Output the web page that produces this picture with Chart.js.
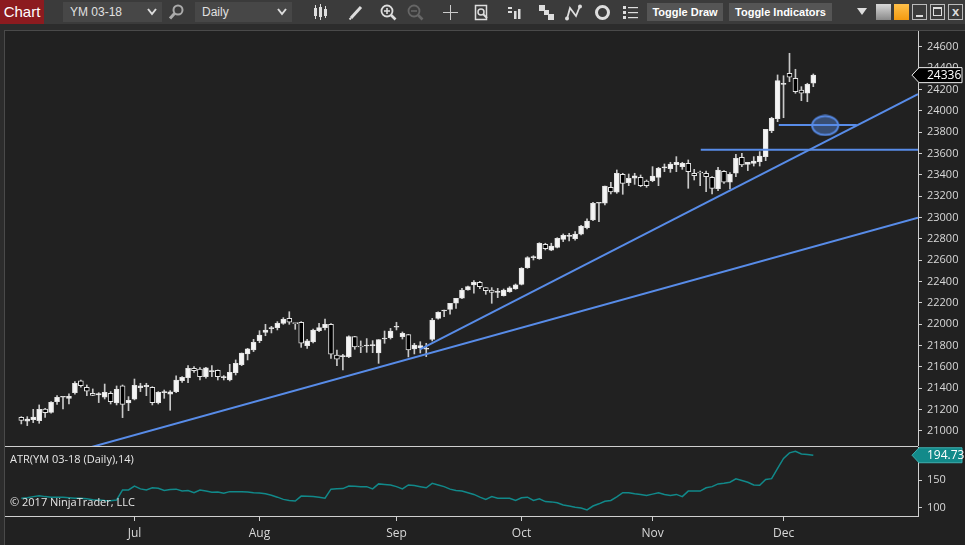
<!DOCTYPE html>
<html>
<head>
<meta charset="utf-8">
<script src="https://cdn.jsdelivr.net/npm/chart.js@4.4.1/dist/chart.umd.min.js"></script>
<style>
html, body { margin:0; padding:0; width:965px; height:545px; overflow:hidden; background:#2c2c2c; font-family:'Open Sans', sans-serif; }
#tb { position:absolute; left:0; top:0; width:965px; height:24px; background:#3b3b3b; }
#tab { position:absolute; left:0; top:0; width:44px; height:24px; background:#8c1b1f; color:#fff; font:15px 'Liberation Sans', sans-serif; line-height:24px; text-align:center; }
.box { position:absolute; top:2px; height:20px; background:#474747; color:#e0e0e0; font:12px 'Liberation Sans', sans-serif; line-height:20px; padding-left:7px; box-sizing:border-box; }
.box svg { position:absolute; right:5px; top:6px; }
.ico { position:absolute; top:4px; }
.btn { position:absolute; top:3px; height:18px; background:#555; color:#fff; font:bold 11px 'Liberation Sans', sans-serif; line-height:18px; text-align:center; }
.win { position:absolute; top:4px; width:15px; height:16px; box-sizing:border-box; }
#frame { position:absolute; left:4px; top:30px; width:961px; height:515px; background:#212121; border-left:1px solid #4a4a4a; border-top:1px solid #4a4a4a; box-sizing:border-box; }
canvas { position:absolute; }
#c1 { left:5px; top:31px; }
#c2 { left:5px; top:447px; }
#sep { position:absolute; left:5px; top:446px; width:913px; height:1px; background:#cfcfcf; }
.lbl { position:absolute; left:10px; color:#e6e6e6; font:11px 'Open Sans', sans-serif; }
</style>
</head>
<body>
<div id="tb">
  <div id="tab">Chart</div>
  <div class="box" style="left:63px;width:99px">YM 03-18<svg width="10" height="8"><polyline points="1,1 5,6 9,1" fill="none" stroke="#ddd" stroke-width="2"/></svg></div>
  <svg class="ico" style="left:168px" width="17" height="16"><circle cx="10" cy="6" r="4.5" fill="none" stroke="#aaa" stroke-width="2"/><line x1="6.5" y1="9.5" x2="2" y2="14.5" stroke="#aaa" stroke-width="3"/></svg>
  <div class="box" style="left:195px;width:97px">Daily<svg width="10" height="8"><polyline points="1,1 5,6 9,1" fill="none" stroke="#ddd" stroke-width="2"/></svg></div>
  <svg class="ico" style="left:312px" width="16" height="16"><g stroke="#ddd" stroke-width="1"><line x1="3.5" y1="1" x2="3.5" y2="15"/><line x1="8.5" y1="0" x2="8.5" y2="16"/><line x1="13.5" y1="2" x2="13.5" y2="14"/></g><g fill="#ddd"><rect x="2" y="4" width="3" height="8"/><rect x="7" y="3" width="3" height="10"/><rect x="12" y="5" width="3" height="7"/></g></svg>
  <svg class="ico" style="left:348px" width="16" height="16"><line x1="3" y1="14" x2="13" y2="3" stroke="#ddd" stroke-width="3"/><line x1="1.5" y1="15.5" x2="3" y2="14" stroke="#ddd" stroke-width="2"/></svg>
  <svg class="ico" style="left:380px" width="17" height="17"><circle cx="7" cy="7" r="5.5" fill="none" stroke="#ddd" stroke-width="1.8"/><line x1="4" y1="7" x2="10" y2="7" stroke="#ddd" stroke-width="1.6"/><line x1="7" y1="4" x2="7" y2="10" stroke="#ddd" stroke-width="1.6"/><line x1="11" y1="11" x2="15.5" y2="15.5" stroke="#ddd" stroke-width="2.6"/></svg>
  <svg class="ico" style="left:407px" width="17" height="17"><circle cx="7" cy="7" r="5.5" fill="none" stroke="#666" stroke-width="1.8"/><line x1="4" y1="7" x2="10" y2="7" stroke="#666" stroke-width="1.6"/><line x1="11" y1="11" x2="15.5" y2="15.5" stroke="#666" stroke-width="2.6"/></svg>
  <svg class="ico" style="left:442px" width="17" height="17"><line x1="8.5" y1="1" x2="8.5" y2="16" stroke="#ccc" stroke-width="1"/><line x1="1" y1="8.5" x2="16" y2="8.5" stroke="#ccc" stroke-width="1"/></svg>
  <svg class="ico" style="left:473px" width="17" height="17"><rect x="2.5" y="1.5" width="11" height="14" fill="none" stroke="#ddd" stroke-width="1.5"/><circle cx="8" cy="8" r="3" fill="none" stroke="#ddd" stroke-width="1.5"/><line x1="10" y1="10" x2="14" y2="14" stroke="#ddd" stroke-width="2"/></svg>
  <svg class="ico" style="left:507px" width="17" height="17"><g fill="#ddd"><rect x="1" y="3" width="4" height="2"/><rect x="1" y="7" width="4" height="2"/><rect x="7" y="7" width="2.5" height="8"/><rect x="11" y="5" width="2.5" height="10"/></g></svg>
  <svg class="ico" style="left:538px" width="17" height="17"><g fill="#ddd"><rect x="1" y="1" width="6" height="6"/><rect x="6" y="6" width="5" height="5"/><rect x="10" y="10" width="6" height="6"/></g></svg>
  <svg class="ico" style="left:565px" width="17" height="17"><polyline points="2,15 5,4 11,12 15,2" fill="none" stroke="#ddd" stroke-width="1.8"/><circle cx="15" cy="2.5" r="2" fill="#ddd"/><circle cx="2" cy="14.5" r="2" fill="#ddd"/></svg>
  <svg class="ico" style="left:594px" width="17" height="17"><circle cx="8.5" cy="8.5" r="6" fill="none" stroke="#ddd" stroke-width="3"/></svg>
  <svg class="ico" style="left:622px" width="17" height="17"><g fill="#ddd"><rect x="1" y="2" width="3" height="3"/><rect x="1" y="7" width="3" height="3"/><rect x="1" y="12" width="3" height="3"/><rect x="6" y="3" width="10" height="1.2"/><rect x="6" y="8" width="10" height="1.2"/><rect x="6" y="13" width="10" height="1.2"/></g></svg>
  <div class="btn" style="left:647px;width:76px">Toggle Draw</div>
  <div class="btn" style="left:729px;width:103px">Toggle Indicators</div>
  <svg class="ico" style="left:857px;top:8px" width="10" height="8"><polygon points="0,0 10,0 5,7" fill="#ddd"/></svg>
  <div class="win" style="left:876px;background:linear-gradient(#d8d8d8,#8a8a8a)"></div>
  <div class="win" style="left:894px;background:linear-gradient(#ffc04a,#f39a10)"></div>
  <div class="win" style="left:912px;border:1px solid #bbb"><div style="position:absolute;left:3px;top:10px;width:7px;height:2px;background:#ddd"></div></div>
  <div class="win" style="left:930px;border:1px solid #bbb"><div style="position:absolute;left:2px;top:2px;width:9px;height:9px;border:1px solid #ddd;border-top-width:2px;box-sizing:border-box"></div></div>
  <div class="win" style="left:948px;border:1px solid #bbb;color:#ddd;font:bold 13px 'Liberation Sans';line-height:14px;text-align:center">x</div>
</div>
<div id="frame"></div>
<canvas id="c1" width="960" height="415"></canvas>
<div id="sep"></div>
<canvas id="c2" width="960" height="98"></canvas>
<div class="lbl" style="top:451px">ATR(YM 03-18 (Daily),14)</div>
<div class="lbl" style="top:494px">© 2017 NinjaTrader, LLC</div>

<script>
// YM 03-18 daily bars, Jun 6 - Dec 8 2017
const opens = [
  21128,21091,21106,21096,21206,21175,21275,21316,21306,21359,
  21469,21410,21353,21337,21316,21353,21262,21422,21262,21297,
  21406,21415,21410,21266,21359,21344,21369,21472,21500,21587,
  21581,21509,21556,21569,21500,21478,21547,21622,21722,21759,
  21847,21925,21960,21969,22009,22056,22009,22019,21800,21834,
  21940,21969,22000,21712,21697,21694,21884,21790,21797,21800,
  21731,21862,21875,21972,21884,21903,21769,21778,21766,21859,
  22056,22125,22140,22197,22244,22322,22369,22394,22344,22322,
  22300,22268,22306,22331,22375,22531,22625,22615,22750,22694,
  22722,22797,22825,22803,22844,22906,22978,23135,23135,23285,
  23238,23406,23328,23369,23378,23344,23346,23378,23466,23459,
  23497,23478,23509,23416,23422,23416,23378,23272,23435,23332,
  23416,23566,23500,23509,23525,23572,23815,23928,24250,24353,
  24307,24197,24166,24260
];
const highs = [
  21134,21134,21203,21244,21213,21275,21331,21320,21347,21462,
  21478,21431,21394,21359,21440,21369,21422,21431,21322,21487,
  21447,21447,21415,21369,21384,21378,21516,21509,21612,21603,
  21594,21597,21612,21572,21519,21625,21666,21731,21775,21859,
  21940,22000,21981,22025,22062,22118,22012,22025,21859,21956,
  22009,22050,22006,21759,21719,21891,21887,21844,21866,21847,
  21856,21937,21962,22019,21928,21906,21822,21837,21822,22056,
  22118,22134,22197,22244,22337,22359,22409,22403,22344,22344,
  22337,22331,22353,22378,22531,22634,22643,22765,22760,22760,
  22812,22847,22853,22869,22928,22988,23144,23140,23297,23331,
  23447,23416,23409,23416,23400,23353,23478,23472,23503,23519,
  23572,23519,23541,23453,23437,23437,23384,23472,23441,23422,
  23594,23604,23519,23572,23619,23828,23941,24338,24331,24541,
  24391,24228,24260,24347
];
const lows = [
  21066,21050,21078,21072,21128,21166,21250,21206,21253,21344,
  21410,21331,21331,21266,21300,21253,21244,21125,21190,21291,
  21369,21331,21244,21253,21306,21194,21359,21456,21453,21550,
  21478,21494,21509,21478,21478,21469,21525,21612,21666,21744,
  21828,21893,21919,21947,22000,22000,21953,21784,21775,21825,
  21931,21947,21681,21612,21572,21687,21766,21734,21737,21734,
  21634,21822,21862,21947,21862,21694,21722,21731,21697,21844,
  22047,22072,22094,22150,22241,22319,22291,22334,22281,22197,
  22250,22265,22300,22328,22369,22525,22603,22609,22697,22690,
  22716,22775,22781,22790,22838,22894,22972,22962,23119,23222,
  23228,23219,23300,23312,23290,23284,23337,23300,23431,23425,
  23431,23453,23275,23353,23300,23243,23222,23253,23322,23269,
  23384,23478,23441,23484,23484,23534,23797,23900,23937,24275,
  24166,24097,24087,24228
];
const closes = [
  21100,21112,21131,21203,21171,21269,21316,21318,21325,21447,
  21425,21372,21334,21350,21362,21275,21391,21250,21288,21428,
  21422,21428,21266,21362,21362,21366,21478,21503,21587,21565,
  21509,21591,21560,21509,21506,21550,21634,21731,21769,21831,
  21900,21947,21965,22009,22047,22019,22006,21822,21844,21947,
  21969,22000,21719,21672,21700,21884,21787,21787,21800,21803,
  21856,21866,21937,21975,21915,21759,21806,21800,21769,22040,
  22112,22131,22197,22244,22322,22353,22394,22353,22316,22300,
  22303,22322,22343,22369,22525,22625,22630,22760,22709,22734,
  22806,22835,22835,22847,22922,22969,23135,23138,23297,23241,
  23416,23322,23369,23391,23300,23300,23390,23463,23470,23503,
  23519,23509,23431,23394,23419,23384,23275,23447,23332,23406,
  23556,23494,23519,23531,23578,23828,23931,24284,24256,24316,
  24181,24166,24250,24336
];
// ATR(14)
const atr = [
  117,118,120,121.5,120,119,119,119,118,117,
  117,116,114.5,114,113,112.5,114,132,132,139,
  134,132,136,135,131,133,133.5,130,131,127,
  132,130,128,128.5,126,129,129,129,128.5,127,
  126.5,125,122.5,119,115,113,112,121,120.5,120,
  119,117,133.5,134,134.5,139,138.5,138,138,134,
  143,142,141,138,134,141,140,138,136,144,
  141,138,133.5,131,130,127,124,119,115,120,
  117,117,117,113,118,119,113,116,111,110.5,
  109,105,103,101,99.5,96,103,107,111.5,113,
  119.5,127,127,125,124,122,124.5,127,124,122,
  124,120,130,130,130,136,138,143,144,146,
  152,149,146,141,140.5,151,152.4,171,189,199,
  202,197,196,194.73
];

const monthNames = ['Jul', 'Aug', 'Sep', 'Oct', 'Nov', 'Dec'];
const monthStarts = [19, 40, 63, 84, 106, 128];   // bar index of first session
const priceTicks = [21000, 21200, 21400, 21600, 21800, 22000, 22200, 22400, 22600, 22800,
                    23000, 23200, 23400, 23600, 23800, 24000, 24200, 24400, 24600];
const atrTicks = [100, 150];

// drawing objects: [bar index, price]
const lowerTrend = [[12.4, 20859], [150.4, 22997]];
const upperTrend = [[66.95, 21764], [150.3, 24150]];
const supportLevel = [114.1, 23637];
const markLevel = [[127.2, 23869], [140.3, 23869]];
const circleMark = [135, 23864];

const xMin = -2.74, xMax = 150.58;
const lineBlue = 'rgb(88,140,232)';
const axisGrey = '#cfcfcf';

Chart.defaults.font.family = "'Open Sans', sans-serif";
Chart.defaults.color = '#d8d8d8';

function lineAt(pts, x) {
  const k = (pts[1][1] - pts[0][1]) / (pts[1][0] - pts[0][0]);
  return pts[0][1] + (x - pts[0][0]) * k;
}

function priceTag(chart, value, text, fill, edge) {
  const ctx = chart.ctx, area = chart.chartArea;
  const y = chart.scales.y.getPixelForValue(value);
  const tip = area.right - 6, r = chart.width - 3, h = 7.5;
  ctx.save();
  ctx.beginPath();
  ctx.moveTo(tip, y);
  ctx.lineTo(tip + 7, y - h);
  ctx.lineTo(r, y - h);
  ctx.lineTo(r, y + h);
  ctx.lineTo(tip + 7, y + h);
  ctx.closePath();
  ctx.fillStyle = fill;
  ctx.fill();
  ctx.strokeStyle = edge;
  ctx.lineWidth = 1;
  ctx.stroke();
  ctx.fillStyle = '#fff';
  ctx.font = "12px 'Open Sans', sans-serif";
  ctx.textBaseline = 'middle';
  ctx.textAlign = 'left';
  ctx.fillText(text, area.right + 9, y + 0.5);
  ctx.restore();
}

// ellipse marker
const ellipse = document.createElement('canvas');
ellipse.width = 30; ellipse.height = 22;
{
  const g = ellipse.getContext('2d');
  g.beginPath();
  g.ellipse(15, 11, 13, 9.5, 0, 0, Math.PI * 2);
  g.fillStyle = 'rgba(88,140,232,0.42)';
  g.fill();
  g.lineWidth = 2;
  g.strokeStyle = lineBlue;
  g.stroke();
}

//chart1 - price
{
  const idx = closes.map((_, i) => i);
  const up = idx.map(i => closes[i] >= opens[i]);

  const data = {
    datasets: [
      {
        type: 'line',
        data: [{x: xMin, y: lineAt(lowerTrend, xMin)}, {x: xMax, y: lineAt(lowerTrend, xMax)}],
        borderColor: lineBlue, borderWidth: 2, pointRadius: 0, order: 0
      },
      {
        type: 'line',
        data: [{x: upperTrend[0][0], y: upperTrend[0][1]}, {x: xMax, y: lineAt(upperTrend, xMax)}],
        borderColor: lineBlue, borderWidth: 2, pointRadius: 0, order: 0
      },
      {
        type: 'line',
        data: [{x: supportLevel[0], y: supportLevel[1]}, {x: xMax, y: supportLevel[1]}],
        borderColor: lineBlue, borderWidth: 2, pointRadius: 0, order: 0
      },
      {
        type: 'line',
        data: markLevel.map(p => ({x: p[0], y: p[1]})),
        borderColor: lineBlue, borderWidth: 2, pointRadius: 0, order: 0
      },
      {
        type: 'line',
        data: [{x: circleMark[0], y: circleMark[1]}],
        showLine: false, pointStyle: ellipse, pointRadius: 10, order: 1
      },
      {
        type: 'bar',
        data: idx.map(i => ({x: i, y: [opens[i], closes[i]]})),
        backgroundColor: up.map(u => u ? '#f4f4f4' : '#000000'),
        borderColor: '#e4e4e4',
        borderWidth: 1,
        borderSkipped: false,
        barThickness: 5,
        minBarLength: 1,
        grouped: false,
        order: 2
      },
      {
        type: 'bar',
        data: idx.map(i => ({x: i, y: [lows[i], highs[i]]})),
        backgroundColor: '#c8c8c8',
        barThickness: 1,
        grouped: false,
        order: 3
      }
    ]
  };

  const config = {
    type: 'bar',
    data: data,
    options: {
      responsive: false,
      animation: false,
      plugins: { legend: { display: false }, tooltip: { enabled: false } },
      layout: { padding: 0, autoPadding: false },
      scales: {
        x: { type: 'linear', min: xMin, max: xMax, offset: false, display: false },
        y: {
          position: 'right', min: 20859, max: 24750,
          afterBuildTicks: s => { s.ticks = priceTicks.map(v => ({value: v})); },
          afterFit: s => { s.width = 47; s.paddingTop = 0; s.paddingBottom = 0; },
          grid: { drawOnChartArea: false, drawTicks: true, tickLength: 4, color: axisGrey },
          border: { display: true, color: axisGrey },
          ticks: { padding: 5, font: { size: 11 }, color: '#d8d8d8', callback: v => String(v) }
        }
      }
    },
    plugins: [{
      id: 'lastPrice',
      afterDraw: c => priceTag(c, closes[closes.length - 1], String(closes[closes.length - 1]), '#000', '#f0f0f0')
    }]
  };

  const myChart = new Chart(document.getElementById('c1'), config);
}

//chart2 - ATR
{
  const data = {
    datasets: [{
      type: 'line',
      data: atr.map((v, i) => ({x: i, y: v})),
      borderColor: '#11898a',
      borderWidth: 1.5,
      pointRadius: 0,
      tension: 0
    }]
  };

  const config = {
    type: 'line',
    data: data,
    options: {
      responsive: false,
      animation: false,
      plugins: { legend: { display: false }, tooltip: { enabled: false } },
      layout: { padding: 0, autoPadding: false },
      scales: {
        x: {
          type: 'linear', min: xMin, max: xMax, offset: false,
          afterBuildTicks: s => { s.ticks = monthStarts.map(v => ({value: v})); },
          afterFit: s => { s.height = 29; s.paddingLeft = 0; s.paddingRight = 0; },
          grid: { drawOnChartArea: false, drawTicks: true, tickLength: 5, color: axisGrey },
          border: { display: true, color: axisGrey },
          ticks: {
            autoSkip: false, maxRotation: 0, padding: 5, font: { size: 12 }, color: '#d8d8d8',
            callback: v => monthNames[monthStarts.indexOf(v)]
          }
        },
        y: {
          position: 'right', min: 85, max: 209.6,
          afterBuildTicks: s => { s.ticks = atrTicks.map(v => ({value: v})); },
          afterFit: s => { s.width = 47; s.paddingTop = 0; s.paddingBottom = 0; },
          grid: { drawOnChartArea: false, drawTicks: true, tickLength: 4, color: axisGrey },
          border: { display: true, color: axisGrey },
          ticks: { padding: 5, font: { size: 11 }, color: '#d8d8d8' }
        }
      }
    },
    plugins: [{
      id: 'lastAtr',
      afterDraw: c => priceTag(c, atr[atr.length - 1], atr[atr.length - 1].toFixed(2), '#128a8a', '#3fb0b0')
    }]
  };

  const myChart = new Chart(document.getElementById('c2'), config);
}
</script>
</body>
</html>
